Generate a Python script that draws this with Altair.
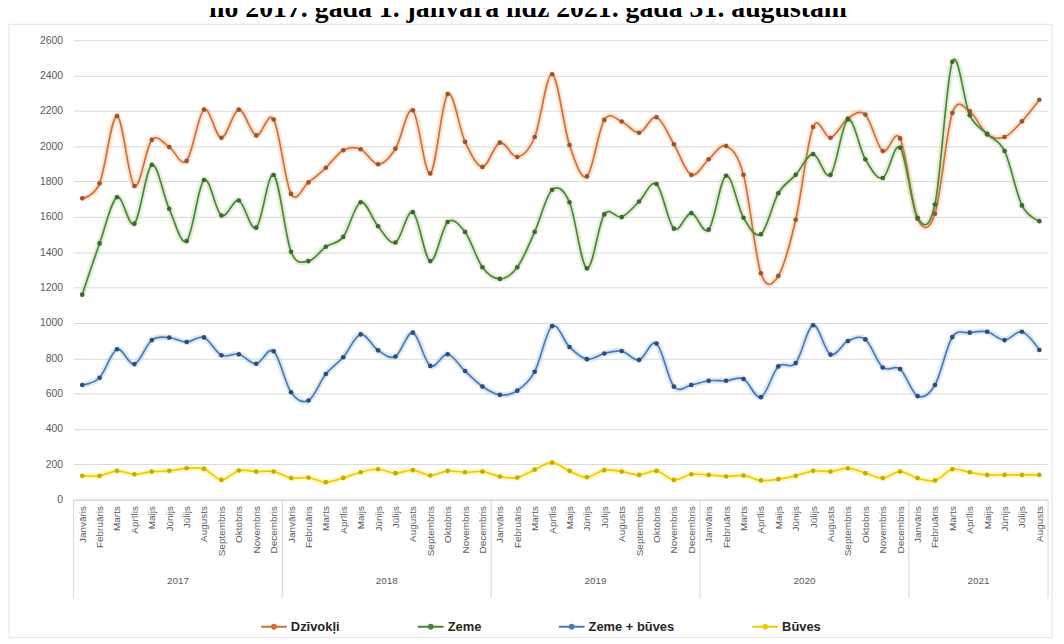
import altair as alt
import pandas as pd

months = ["Janvāris", "Februāris", "Marts", "Aprīlis", "Maijs", "Jūnijs",
          "Jūlijs", "Augusts", "Septembris", "Oktobris", "Novembris", "Decembris"]
years = ["2017", "2018", "2019", "2020", "2021"]
month_counts = [12, 12, 12, 12, 8]

dzivokli = [1705, 1790, 2170, 1775, 2036, 1995, 1917, 2207, 2048, 2207, 2061, 2151,
            1730, 1795, 1878, 1977, 1983, 1898, 1986, 2203, 1846, 2295, 2025, 1883,
            2020, 1939, 2052, 2407, 2007, 1829, 2149, 2140, 2076, 2164, 2011, 1838,
            1926, 2001, 1838, 1281, 1266, 1584, 2109, 2048, 2157, 2179, 1973, 2044,
            1590, 1618, 2188, 2197, 2067, 2052, 2141, 2263]
zeme = [1160, 1450, 1711, 1562, 1894, 1646, 1463, 1809, 1608, 1693, 1539, 1837,
        1403, 1350, 1431, 1487, 1683, 1547, 1455, 1627, 1350, 1571, 1515, 1315,
        1249, 1315, 1515, 1753, 1683, 1309, 1614, 1599, 1687, 1786, 1534, 1621,
        1528, 1833, 1595, 1502, 1734, 1838, 1955, 1838, 2151, 1926, 1820, 1992,
        1595, 1670, 2478, 2175, 2070, 1973, 1665, 1576]
zeme_buves = [649, 690, 851, 767, 903, 917, 892, 918, 817, 823, 769, 840,
              608, 561, 711, 806, 935, 845, 810, 945, 757, 823, 728, 640,
              593, 617, 724, 982, 864, 795, 827, 841, 791, 883, 640, 649,
              673, 673, 683, 580, 754, 773, 987, 821, 898, 907, 748, 739,
              586, 649, 920, 945, 950, 903, 950, 847]
buves = [135, 135, 163, 144, 159, 163, 178, 174, 112, 165, 159, 159,
         122, 125, 99, 123, 155, 172, 150, 167, 137, 163, 155, 159,
         131, 125, 170, 210, 163, 127, 167, 159, 140, 163, 112, 144,
         140, 131, 137, 109, 116, 135, 163, 159, 178, 150, 122, 159,
         122, 109, 172, 155, 140, 140, 140, 140]

series_names = ["Dzīvokļi", "Zeme", "Zeme + būves", "Būves"]
line_colors = ["#CF6F3A", "#4C8439", "#4A7AB5", "#EFCB0A"]
marker_colors = ["#A0522D", "#3B6A2F", "#2E4C7A", "#C9A900"]
glow_colors = ["#F9C39C", "#BCDBA6", "#B0CFEC", "#FFF07A"]
y_ticks = list(range(0, 2601, 200))
title_text = "no 2017. gada 1. janvāra līdz 2021. gada 31. augustam"

all_series = [dzivokli, zeme, zeme_buves, buves]
n = len(dzivokli)
rows = []
for sid, (name, vals) in enumerate(zip(series_names, all_series)):
    for i, v in enumerate(vals):
        rows.append({"idx": i, "series": name, "sid": sid, "value": v})
df = pd.DataFrame(rows)
sids = list(range(len(series_names)))

# year group positions derived from month counts
year_rows, bound_rows = [], []
start = 0
bound_rows.append({"idx": -0.5})
for y, c in zip(years, month_counts):
    year_rows.append({"idx": start + (c - 1) / 2, "year": y})
    start += c
    bound_rows.append({"idx": start - 0.5})
years_df = pd.DataFrame(year_rows)
bounds_df = pd.DataFrame(bound_rows)

label_expr = "[" + ",".join("'" + m + "'" for m in months) + "][datum.value % 12]"

x_enc = alt.X("idx:Q",
              scale=alt.Scale(domain=[-0.5, n - 0.5], nice=False, zero=False),
              axis=alt.Axis(values=list(range(n)), labelExpr=label_expr, labelAngle=270,
                            labelFontSize=10, labelColor="#595959", labelFont="Liberation Sans",
                            labelPadding=6, ticks=False, grid=False, domain=True,
                            domainColor="#D9D9D9", title=None, labelOverlap=False,
                            labelBound=False, labelFlush=False))
y_enc = alt.Y("value:Q",
              scale=alt.Scale(domain=[0, 2600], nice=False),
              axis=alt.Axis(values=y_ticks, format="d", labelFontSize=10.5, labelColor="#595959",
                            labelFont="Liberation Sans", labelPadding=11, ticks=False,
                            domain=False, grid=True, gridColor="#D9D9D9", title=None))

base = alt.Chart(df)

glow = base.mark_line(interpolate="cardinal", strokeWidth=6, opacity=0.45).encode(
    x=x_enc, y=y_enc,
    stroke=alt.Stroke("sid:N", scale=alt.Scale(domain=sids, range=glow_colors), legend=None),
)

legend_path = "M-1,0L1,0M0.16,0A0.16,0.16,0,1,1,-0.16,0A0.16,0.16,0,1,1,0.16,0"
lines = base.mark_line(interpolate="cardinal", strokeWidth=1.7).encode(
    x=x_enc, y=y_enc,
    color=alt.Color("series:N", scale=alt.Scale(domain=series_names, range=line_colors),
                    legend=alt.Legend(title=None, orient="none", legendX=188, legendY=577,
                                      direction="horizontal", symbolType=legend_path,
                                      symbolSize=676, symbolStrokeWidth=2,
                                      labelFont="Liberation Sans", labelFontSize=13,
                                      labelFontWeight="bold", labelColor="#262626",
                                      columnPadding=74, labelOffset=3)),
)

points = base.mark_circle(size=22, opacity=1).encode(
    x=x_enc, y=y_enc,
    fill=alt.Fill("sid:N", scale=alt.Scale(domain=sids, range=marker_colors), legend=None),
)

seps = alt.Chart(bounds_df).mark_rule(stroke="#D9D9D9", strokeWidth=1).encode(
    x=x_enc, y=alt.value(463), y2=alt.value(562))

year_text = alt.Chart(years_df).mark_text(font="Liberation Sans", fontSize=10, color="#595959",
                                          baseline="middle", align="center").encode(
    x=x_enc, y=alt.value(545), text="year:N")

title = alt.Chart(pd.DataFrame({"t": [title_text]})).mark_text(
    font="Liberation Serif", fontSize=28, fontWeight="bold", baseline="alphabetic",
    align="center", color="black").encode(text="t:N", x=alt.value(458), y=alt.value(-23))

border = alt.Chart(pd.DataFrame({"b": [0]})).mark_rect(fill="transparent", stroke="#E3E3E3",
                                                       strokeWidth=1).encode(
    x=alt.value(-65), x2=alt.value(986), y=alt.value(-16), y2=alt.value(602))

chart = alt.layer(border, seps, year_text, glow, lines, points, title).properties(
    width=982, height=463,
    autosize=alt.AutoSizeParams(type="none"),
    padding={"left": 66, "top": 30, "right": 8, "bottom": 143},
).configure(background="white").configure_view(stroke=None)

chart.save("out.html", embed_options={"renderer": "svg", "actions": False})
